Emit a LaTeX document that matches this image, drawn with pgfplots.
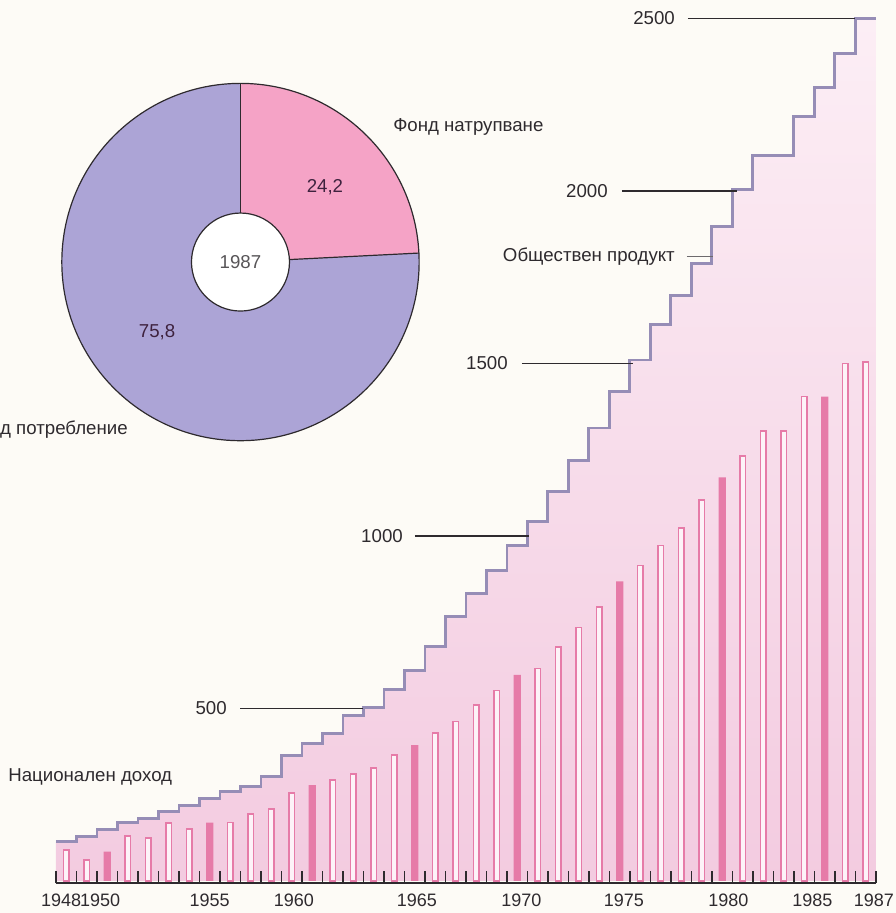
\documentclass[border=0pt]{standalone}
\usepackage{pgfplots}
\usepackage{pgfplotstable}
\pgfplotsset{compat=1.18}
\usetikzlibrary{calc}
\usepackage{fontspec}
\setmainfont{Liberation Sans}

\definecolor{bg}{HTML}{FDFBF6}
\definecolor{ink}{HTML}{2E2A2E}
\definecolor{barpink}{HTML}{E67BA8}
\definecolor{barwhite}{HTML}{FDF3F8}
\definecolor{areatop}{HTML}{FCEEF5}
\definecolor{areabot}{HTML}{F3CBE0}
\definecolor{stepline}{HTML}{968DB6}
\definecolor{lavender}{HTML}{ACA4D6}
\definecolor{slicepink}{HTML}{F5A3C6}

\newcommand\lf{\fontsize{14}{16}\selectfont}
\newcommand\tf{\fontsize{13.5}{16}\selectfont}

% Обществен продукт (last row closes the final step)
\pgfplotstableread{
year gp
1948 114
1949 130
1950 148
1951 169
1952 182
1953 201
1954 220
1955 240
1956 259
1957 273
1958 304
1959 363
1960 399
1961 427
1962 479
1963 504
1964 556
1965 610
1966 679
1967 766
1968 833
1969 899
1970 973
1971 1041
1972 1128
1973 1220
1974 1313
1975 1418
1976 1510
1977 1612
1978 1697
1979 1790
1980 1897
1981 2004
1982 2104
1983 2104
1984 2215
1985 2300
1986 2399
1987 2499
1988 2499
}\gp

% Национален доход, open bars
\pgfplotstableread{
year ni
1948 90
1949 61
1951 130
1952 124
1953 167
1954 150
1956 169
1957 194
1958 208
1959 254
1961 292
1962 310
1963 328
1964 364
1966 428
1967 462
1968 510
1969 552
1971 616
1972 679
1973 735
1974 793
1976 914
1977 972
1978 1024
1979 1105
1981 1232
1982 1305
1983 1305
1984 1404
1986 1500
1987 1504
}\niopen

% Национален доход, filled bars
\pgfplotstableread{
year ni
1950 85
1955 169
1960 278
1965 394
1970 597
1975 868
1980 1170
1985 1404
}\nifill

\begin{document}
\begin{tikzpicture}
\fill[bg] (-42pt,-22.5pt) rectangle (630pt,662.3pt);
\useasboundingbox (-42pt,-22.5pt) rectangle (630pt,662.3pt);
\begin{axis}[
    at={(0pt,0pt)}, anchor=south west,
    scale only axis, width=615pt, height=662.3pt,
    xmin=1947.5, xmax=1987.5, ymin=-6, ymax=2553.6,
    axis y line=none, axis x line=bottom,
    axis line style={-, line width=1.5pt, color=ink},
    xtick={1947.75,1949.65,1955,1959.1,1965.1,1970.2,1975.2,1980.3,1984.4,1987.4},
    xticklabels={1948,1950,1955,1960,1965,1970,1975,1980,1985,1987},
    major tick length=0pt,
    xticklabel style={font=\tf, color=ink, yshift=-5pt},
    clip=false,
]
% shaded area under the staircase
\addplot[const plot mark left, draw=none, mark=none, top color=areatop, bottom color=areabot]
    table[x expr=\thisrow{year}-0.5, y=gp] {\gp} \closedcycle;
% bars
\addplot[ybar, bar width=0.27, bar shift=0pt, draw=barpink, line width=1.3pt, fill=barwhite]
    table[x=year, y=ni] {\niopen};
\addplot[ybar, bar width=0.36, bar shift=0pt, draw=none, fill=barpink]
    table[x=year, y=ni] {\nifill};
% staircase
\addplot[const plot mark left, mark=none, color=stepline, line width=2.2pt]
    table[x expr=\thisrow{year}-0.5, y=gp] {\gp};

% year boundary ticks on the base line
\pgfplotsinvokeforeach{1947.5,1948.5,1949.5,1950.5,1951.5,1952.5,1953.5,1954.5,1955.5,1956.5,
  1957.5,1958.5,1959.5,1960.5,1961.5,1962.5,1963.5,1964.5,1965.5,1966.5,1967.5,1968.5,
  1969.5,1970.5,1971.5,1972.5,1973.5,1974.5,1975.5,1976.5,1977.5,1978.5,1979.5,1980.5,
  1981.5,1982.5,1983.5,1984.5,1985.5,1986.5,1987.5}{
  \draw[ink, line width=1.3pt] (axis cs:#1,-6) -- ++(0pt,9pt);
}

\coordinate (t0) at (axis cs:1947.5,-6);
\coordinate (t1) at (axis cs:1987.5,-6);

% value leaders
\draw[ink, line width=0.9pt] (axis cs:1956.48,500) -- (axis cs:1962.48,500);
\draw[ink, line width=0.9pt] (axis cs:1965.01,1000) -- (axis cs:1970.57,1000);
\draw[ink, line width=0.9pt] (axis cs:1970.23,1500) -- (axis cs:1975.65,1500);
\draw[ink, line width=0.9pt] (axis cs:1975.11,2000) -- (axis cs:1980.72,2000);
\draw[ink, line width=0.9pt] (axis cs:1978.33,2500) -- (axis cs:1986.48,2500);
\draw[ink!70, line width=0.6pt] (axis cs:1978.28,1809) -- (axis cs:1979.55,1809);
\begin{scope}[every node/.style={font=\lf, text=ink, inner sep=0pt}]
\node[anchor=east] at (axis cs:1955.84,500) {500};
\node[anchor=east] at (axis cs:1964.43,1000) {1000};
\node[anchor=east] at (axis cs:1969.55,1500) {1500};
\node[anchor=east] at (axis cs:1974.43,2000) {2000};
\node[anchor=east] at (axis cs:1977.70,2500) {2500};
\node[anchor=east] at (axis cs:1977.70,1809) {Обществен продукт};
\node[anchor=west] at (axis cs:1945.16,301) {Национален доход};
\node[anchor=west] at (axis cs:1963.94,2186) {Фонд натрупване};
\node[anchor=east] at (axis cs:1951.01,1307) {Фонд потребление};
\end{scope}

% donut 1987
\coordinate (c) at (axis cs:1956.5,1794);
\pgfmathsetmacro\acc{90-24.2*3.6}
\fill[lavender] (c) circle (134pt);
\fill[slicepink] (c) -- ++(90:134pt) arc[start angle=90, end angle=\acc, radius=134pt] -- cycle;
\fill[white] (c) circle (36.75pt);
\draw[ink, line width=0.9pt] (c) circle (134pt);
\draw[ink, line width=0.9pt] (c) circle (36.75pt);
\draw[ink, line width=0.9pt] (c) ++(90:36.75pt) -- ++(90:97.25pt);
\draw[ink, line width=0.9pt] (c) ++(\acc:36.75pt) -- ++(\acc:97.25pt);
\node[font=\lf, text=ink!80!violet] at (axis cs:1960.62,2012) {24,2};
\node[font=\lf, text=ink!80!violet] at (axis cs:1952.43,1591) {75,8};
\node[font=\lf, text=ink!80] at (c) {1987};
\end{axis}
% same ticks again, drawn over everything
\foreach \i in {0,...,40}
  \draw[ink, line width=1.3pt] ($(t0)!\i/40!(t1)$) -- ++(0pt,9pt);
\end{tikzpicture}
\end{document}
